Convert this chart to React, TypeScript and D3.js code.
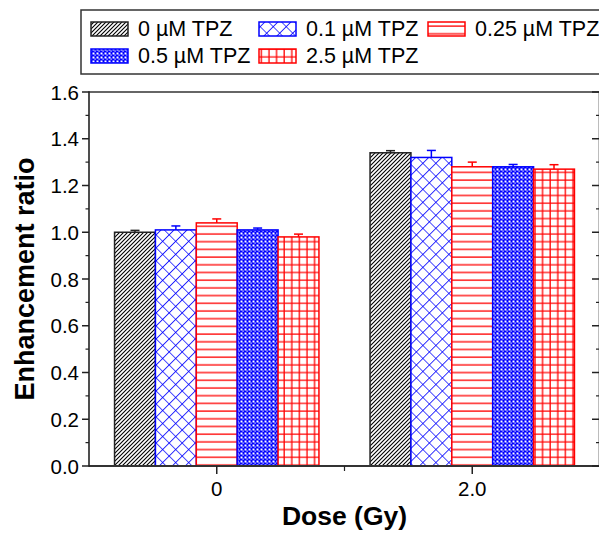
import React from "react";
import * as d3 from "d3";

const doses = [0, 2.0];
const doseLabels = ["0", "2.0"];
const seriesNames = ["0 µM TPZ", "0.1 µM TPZ", "0.25 µM TPZ", "0.5 µM TPZ", "2.5 µM TPZ"];
const seriesColors = ["#000000", "#0000ff", "#ff0000", "#0000ff", "#ff0000"];
const seriesPatterns = ["diag", "xhatch", "hlines", "dense", "grid"];
// values[series][doseIndex]
const values = [
  [1.0, 1.34],
  [1.01, 1.32],
  [1.04, 1.28],
  [1.01, 1.28],
  [0.98, 1.27],
];
const errors = [
  [0.008, 0.009],
  [0.017, 0.03],
  [0.017, 0.02],
  [0.008, 0.01],
  [0.012, 0.019],
];
const yTicks = [0, 0.2, 0.4, 0.6, 0.8, 1.0, 1.2, 1.4, 1.6];

const W = 599;
const H = 534;
const FONT = "'Liberation Sans', Arial, Helvetica, sans-serif";

export default function App() {
  const x = d3.scaleLinear().domain([-1, 3]).range([89, 600]);
  const y = d3.scaleLinear().domain([0, 1.6]).range([466, 92]);
  const inner = d3
    .scaleBand<number>()
    .domain(d3.range(seriesNames.length))
    .range([-0.8, 0.8])
    .padding(0);
  const minorY = d3.range(0.1, 1.6, 0.2);

  const fillFor = (i: number) => `url(#pat-${seriesPatterns[i]})`;

  return (
    <svg
      width={W}
      height={H}
      style={{ position: "absolute", left: 0, top: 0, background: "#fff" }}
      fontFamily={FONT}
    >
      <defs>
        <pattern id="pat-diag" patternUnits="userSpaceOnUse" width={4} height={4}>
          <rect width={4} height={4} fill="#fff" />
          <path d="M-1,1 l2,-2 M0,4 l4,-4 M3,5 l2,-2" stroke="#000" strokeWidth={1.1} />
        </pattern>
        <pattern
          id="pat-xhatch"
          patternUnits="userSpaceOnUse"
          width={9.2}
          height={9.2}
          patternTransform="rotate(45)"
        >
          <rect width={9.2} height={9.2} fill="#fff" />
          <path d="M0,0 H9.2 M0,0 V9.2" stroke="#0000ff" strokeWidth={1.6} />
        </pattern>
        <pattern id="pat-hlines" patternUnits="userSpaceOnUse" width={8} height={7.7}>
          <rect width={8} height={7.7} fill="#fff" />
          <path d="M0,3 H8" stroke="#ff0000" strokeWidth={1.3} />
        </pattern>
        <pattern id="pat-dense" patternUnits="userSpaceOnUse" width={4} height={4}>
          <rect width={4} height={4} fill="#0000ff" />
          <rect x={0.5} y={0.5} width={2} height={2} fill="#fff" />
          <rect x={2.5} y={2.5} width={1.2} height={1.2} fill="#fff" />
        </pattern>
        <pattern id="pat-grid" patternUnits="userSpaceOnUse" width={7.6} height={7.7}>
          <rect width={7.6} height={7.7} fill="#fff" />
          <path d="M0,3 H7.6 M3,0 V7.7" stroke="#ff0000" strokeWidth={1.3} />
        </pattern>
      </defs>

      {/* Bars */}
      {doses.map((d, di) =>
        seriesNames.map((_, si) => {
          const x0 = x(d + (inner(si) as number));
          const x1 = x(d + (inner(si) as number) + inner.bandwidth());
          const v = values[si][di];
          const e = errors[si][di];
          const cx = (x0 + x1) / 2;
          const col = seriesColors[si] === "#000000" ? "#222" : seriesColors[si];
          return (
            <g key={`${di}-${si}`}>
              <line x1={cx} x2={cx} y1={y(v)} y2={y(v + e)} stroke={col} strokeWidth={1.5} />
              <line x1={cx - 4.5} x2={cx + 4.5} y1={y(v + e)} y2={y(v + e)} stroke={col} strokeWidth={1.5} />
              <rect
                x={x0}
                y={y(v)}
                width={x1 - x0}
                height={y(0) - y(v)}
                fill={fillFor(si)}
                stroke={col}
                strokeWidth={1.5}
              />
            </g>
          );
        })
      )}

      {/* Frame */}
      <line x1={89} x2={600} y1={92} y2={92} stroke="#333" strokeWidth={1.6} />
      <line x1={89} x2={600} y1={466} y2={466} stroke="#333" strokeWidth={1.8} />
      <line x1={89} x2={89} y1={91.2} y2={466.8} stroke="#222" strokeWidth={1.6} />
      <line x1={599.5} x2={599.5} y1={92} y2={466} stroke="#222" strokeWidth={1.6} />

      {/* Y ticks */}
      {yTicks.map((t) => (
        <g key={`yt${t}`}>
          <line x1={82} x2={89} y1={y(t)} y2={y(t)} stroke="#222" strokeWidth={1.5} />
          <line x1={592} x2={599} y1={y(t)} y2={y(t)} stroke="#222" strokeWidth={1.5} />
          <text x={79} y={y(t) + 7.5} textAnchor="end" fontSize={20.5} fill="#000">
            {t.toFixed(1)}
          </text>
        </g>
      ))}
      {minorY.map((t) => (
        <g key={`ym${t}`}>
          <line x1={85.5} x2={89} y1={y(t)} y2={y(t)} stroke="#222" strokeWidth={1.2} />
          <line x1={596} x2={599} y1={y(t)} y2={y(t)} stroke="#222" strokeWidth={1.2} />
        </g>
      ))}

      {/* X ticks */}
      {doses.map((d, di) => (
        <g key={`xt${d}`}>
          <line x1={x(d)} x2={x(d)} y1={466} y2={474} stroke="#222" strokeWidth={1.5} />
          <text x={x(d)} y={496} textAnchor="middle" fontSize={20.5} fill="#000">
            {doseLabels[di]}
          </text>
        </g>
      ))}
      <line x1={x(1)} x2={x(1)} y1={466} y2={471} stroke="#222" strokeWidth={1.2} />

      {/* Axis titles */}
      <text x={x(1)} y={525} textAnchor="middle" fontSize={26.5} fontWeight="bold" fill="#000">
        Dose (Gy)
      </text>
      <text
        transform={`translate(34,${(y(0) + y(1.6)) / 2}) rotate(-90)`}
        textAnchor="middle"
        fontSize={27}
        fontWeight="bold"
        fill="#000"
      >
        Enhancement ratio
      </text>

      {/* Legend */}
      <rect x={81} y={10} width={540} height={64} fill="#fff" stroke="#333" strokeWidth={1.5} />
      {seriesNames.map((name, si) => {
        const col = si % 3;
        const row = Math.floor(si / 3);
        const sx = [91, 259, 428][col];
        const sy = [22, 49][row];
        const c = seriesColors[si] === "#000000" ? "#222" : seriesColors[si];
        return (
          <g key={`lg${si}`}>
            <rect x={sx} y={sy} width={37} height={14} fill={fillFor(si)} stroke={c} strokeWidth={1.5} />
            <text x={sx + 47} y={sy + 13.5} fontSize={21.5} fill="#000">
              {name}
            </text>
          </g>
        );
      })}
    </svg>
  );
}
